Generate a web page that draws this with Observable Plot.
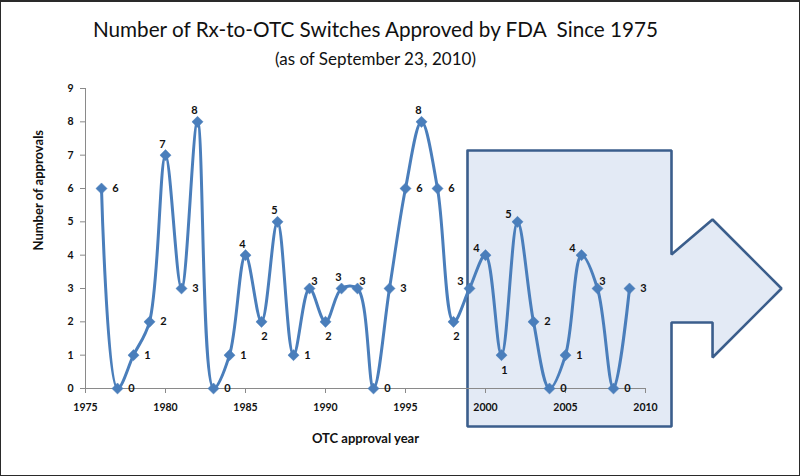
<!DOCTYPE html>
<html>
<head>
<meta charset="utf-8">
<script src="https://cdn.jsdelivr.net/npm/d3@7"></script>
<script src="https://cdn.jsdelivr.net/npm/@observablehq/plot@0.6"></script>
<style>
  html, body { margin: 0; padding: 0; background: #fff; }
  #frame { position: relative; width: 800px; height: 476px; box-sizing: border-box; border: 1px solid #2a2a2a; border-top-width: 2px; overflow: hidden; font-family: Lato, "Open Sans", sans-serif; }
  #titles { position: relative; height: 75px; }
  #title { position: absolute; left: 0; width: 749px; top: 17px; text-align: center; font-size: 20.7px; line-height: 20px; color: #111; white-space: nowrap; }
  #subtitle { position: absolute; left: 0; width: 749px; top: 48px; text-align: center; font-size: 17px; line-height: 17px; color: #111; white-space: nowrap; }
  svg { display: block; }
</style>
</head>
<body>
<div id="frame">
  <div id="titles">
    <div id="title">Number of Rx-to-OTC Switches Approved by FDA&nbsp; Since 1975</div>
    <div id="subtitle">(as of September 23, 2010)</div>
  </div>
  <div id="chart"></div>
</div>
<script>
// ---- data ----
const years = [1976,1977,1978,1979,1980,1981,1982,1983,1984,1985,1986,1987,1988,1989,1990,1991,1992,1993,1994,1995,1996,1997,1998,1999,2000,2001,2002,2003,2004,2005,2006,2007,2008,2009];
const approvals = [6,0,1,2,7,3,8,0,1,4,2,5,1,3,2,3,3,0,3,6,8,6,2,3,4,1,5,2,0,1,4,3,0,3];
// data-label placement (r = right, a = above, b = below, al = above-left, ar = above-right)
const labelPos = ["r","r","r","r","a","r","a","r","r","a","b","a","r","ar","b","a","ar","r","r","r","a","r","b","al","al","b","al","r","r","r","al","ar","r","r"];
const xTicks = [1975,1980,1985,1990,1995,2000,2005,2010];
const yTicks = [0,1,2,3,4,5,6,7,8,9];
// highlight arrow outline, in data units (year, approvals)
const arrowYear = [1998.875, 2011.625, 2011.625, 2014.19, 2018.5, 2014.19, 2014.19, 2011.625, 2011.625, 1998.875, 1998.875];
const arrowVal  = [7.14, 7.14, 4.02, 5.07, 3.0, 0.93, 1.98, 1.98, -1.14, -1.14, 7.14];

const rows = years.map((y, i) => ({year: y, n: approvals[i], pos: labelPos[i]}));
const arrow = arrowYear.map((x, i) => ({x, y: arrowVal[i]}));

const blue = "#4a7ebb";
const gray = "#8a8a8a";
const offsets = {r: [14, 0], a: [-3, -11], b: [3, 15], al: [-9, -7], ar: [5, -7]};

const labelMarks = Object.entries(offsets).map(([k, [dx, dy]]) =>
  Plot.text(rows.filter(d => d.pos === k), {x: "year", y: "n", text: d => String(d.n), dx, dy,
    fontWeight: "bold", fontSize: 11, fill: "#111"})
);

const chart = Plot.plot({
  width: 798,
  height: 398,
  marginLeft: 84,
  marginRight: 154,
  marginTop: 11,
  marginBottom: 87,
  style: {fontFamily: "Lato, 'Open Sans', sans-serif", background: "transparent", overflow: "visible"},
  x: {domain: [1975, 2010]},
  y: {domain: [0, 9]},
  marks: [
    Plot.line(arrow, {x: "x", y: "y", fill: "#e3eaf5", stroke: "#3b5e8c", strokeWidth: 2.6, strokeLinejoin: "miter", curve: "linear"}),
    Plot.ruleX([1975], {y1: 0, y2: 9, stroke: gray, strokeWidth: 1}),
    Plot.ruleY([0], {x1: 1975, x2: 2010, stroke: gray, strokeWidth: 1}),
    Plot.axisX({ticks: xTicks, tickFormat: d => String(d), tickSize: 5, tickPadding: 10, stroke: gray, fontWeight: "bold", fontSize: 10.5, fill: "#111", label: null}),
    Plot.axisY({ticks: yTicks, tickSize: 5, tickPadding: 7, stroke: gray, fontWeight: "bold", fontSize: 10.5, fill: "#111", label: null}),
    Plot.line(rows, {x: "year", y: "n", stroke: blue, strokeWidth: 3, curve: "catmull-rom"}),
    Plot.dot(rows, {x: "year", y: "n", symbol: "diamond2", r: 5, fill: blue, stroke: blue, strokeWidth: 0.5}),
    ...labelMarks,
    Plot.text(["OTC approval year"], {frameAnchor: "bottom", dy: 54, fontWeight: "bold", fontSize: 13, fill: "#111"}),
    Plot.text(["Number of approvals"], {frameAnchor: "left", dx: -47, dy: 12, rotate: -90, fontWeight: "bold", fontSize: 13, fill: "#111"})
  ]
});
document.getElementById("chart").appendChild(chart);
</script>
</body>
</html>
